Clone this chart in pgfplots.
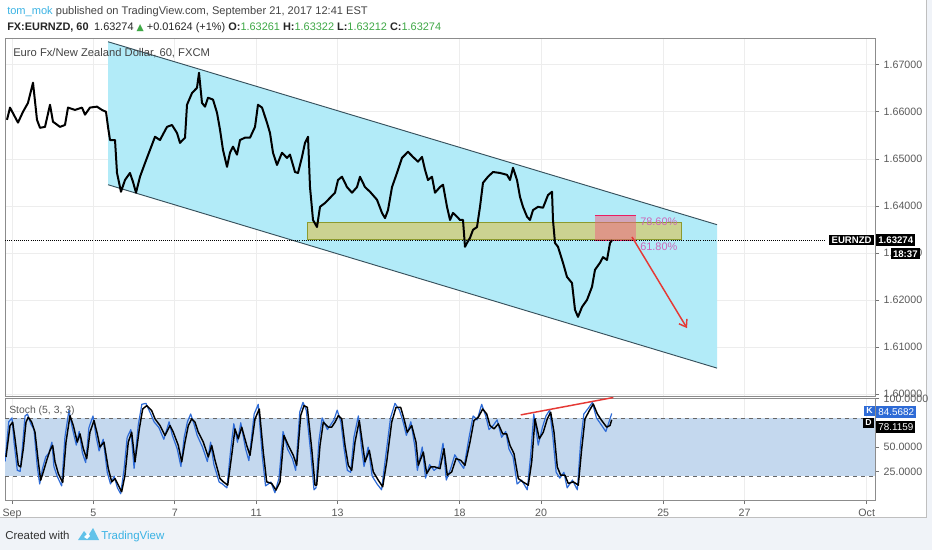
\documentclass[border=0pt]{standalone}
\usepackage{fontspec}
\setmainfont{Liberation Sans}
\newfontfamily\dejavu{DejaVu Sans}
\usepackage{pgfplots}
\usepackage{pgfplotstable}
\pgfplotsset{compat=1.18}
\usetikzlibrary{arrows.meta}

\definecolor{tvblue}{HTML}{3BB3E4}
\definecolor{txt}{HTML}{444444}
\definecolor{ticktxt}{HTML}{5A5A5A}
\definecolor{upgreen}{HTML}{3FA846}
\definecolor{chan}{HTML}{B2EBF8}
\definecolor{chanline}{HTML}{37505C}
\definecolor{zone}{HTML}{D2CC78}
\definecolor{zoneline}{HTML}{8C9A2E}
\definecolor{fibpink}{HTML}{F06080}
\definecolor{fibline}{HTML}{E91E63}
\definecolor{fibtxt}{HTML}{CC66B8}
\definecolor{stband}{HTML}{C4D8EE}
\definecolor{kblue}{HTML}{2E6BD6}
\definecolor{pagebg}{HTML}{F0F3F8}
\definecolor{gridc}{HTML}{EDEDED}
\definecolor{divred}{HTML}{E53935}

% hourly closes, x = trading days from Sep 1
\pgfplotstableread{
t p
-0.123 1.6583
-0.049 1.6609
0.074 1.6589
0.147 1.6577
0.270 1.6600
0.393 1.6619
0.516 1.6662
0.614 1.6583
0.688 1.6566
0.811 1.6568
0.934 1.6615
1.007 1.6579
1.179 1.6568
1.302 1.6572
1.376 1.6609
1.548 1.6604
1.720 1.6609
1.794 1.6594
1.916 1.6609
2.088 1.6611
2.211 1.6604
2.310 1.6600
2.359 1.6568
2.408 1.6540
2.531 1.6540
2.580 1.6470
2.678 1.6430
2.776 1.6455
2.899 1.6470
2.973 1.6451
3.047 1.6428
3.145 1.6462
3.268 1.6491
3.391 1.6519
3.514 1.6547
3.636 1.6540
3.808 1.6568
3.931 1.6572
4.054 1.6555
4.128 1.6534
4.251 1.6545
4.300 1.6615
4.423 1.6640
4.545 1.6651
4.595 1.6683
4.668 1.6619
4.742 1.6611
4.816 1.6630
4.939 1.6626
5.037 1.6598
5.111 1.6562
5.184 1.6519
5.283 1.6483
5.356 1.6513
5.430 1.6526
5.528 1.6509
5.602 1.6540
5.725 1.6545
5.848 1.6545
5.971 1.6568
6.044 1.6615
6.143 1.6609
6.265 1.6577
6.339 1.6555
6.413 1.6513
6.511 1.6487
6.634 1.6513
6.757 1.6502
6.830 1.6509
6.953 1.6472
7.027 1.6470
7.125 1.6504
7.199 1.6534
7.273 1.6547
7.322 1.6440
7.396 1.6370
7.494 1.6355
7.568 1.6398
7.690 1.6406
7.813 1.6417
7.936 1.6428
8.010 1.6455
8.108 1.6462
8.231 1.6440
8.354 1.6428
8.477 1.6440
8.550 1.6462
8.673 1.6440
8.796 1.6430
8.968 1.6413
9.091 1.6385
9.165 1.6374
9.238 1.6391
9.337 1.6440
9.459 1.6470
9.582 1.6502
9.730 1.6515
9.853 1.6504
9.975 1.6494
10.074 1.6504
10.147 1.6477
10.221 1.6455
10.319 1.6462
10.393 1.6428
10.516 1.6440
10.590 1.6445
10.688 1.6398
10.762 1.6370
10.835 1.6385
10.934 1.6377
11.007 1.6370
11.081 1.6370
11.130 1.6313
11.179 1.6321
11.253 1.6332
11.327 1.6349
11.425 1.6355
11.499 1.6398
11.572 1.6449
11.695 1.6462
11.818 1.6472
11.990 1.6470
12.162 1.6466
12.236 1.6455
12.310 1.6481
12.408 1.6455
12.482 1.6419
12.555 1.6398
12.654 1.6377
12.727 1.6370
12.801 1.6391
12.924 1.6398
13.047 1.6396
13.170 1.6423
13.268 1.6430
13.292 1.6370
13.342 1.6321
13.415 1.6313
13.538 1.6279
13.636 1.6249
13.759 1.6236
13.833 1.6179
13.907 1.6164
14.005 1.6185
14.128 1.6200
14.251 1.6228
14.324 1.6264
14.447 1.6279
14.521 1.6291
14.619 1.6285
14.693 1.6321
14.742 1.6327
}\price

% stochastic %D (black)
\pgfplotstableread{
t v
-0.147 39.8
-0.049 72
0.017 75.6
0.074 58.5
0.155 31.2
0.214 29.5
0.278 48.3
0.344 75.6
0.400 80.7
0.484 75.6
0.565 65.3
0.646 34.7
0.705 15.9
0.769 24.4
0.853 36.4
0.934 46.6
1.000 51.7
1.057 34.7
1.138 22.7
1.246 13.5
1.327 55.1
1.425 82.4
1.506 72.2
1.604 55.1
1.671 63.6
1.752 48.3
1.835 38.1
1.916 65.3
2.015 77.3
2.096 63.6
2.162 50
2.260 55.1
2.366 27.8
2.450 14.2
2.531 17.6
2.612 10.8
2.695 4
2.776 21
2.857 55.1
2.941 65.3
3.022 34.7
3.128 68.7
3.211 89.2
3.310 92.6
3.432 87.5
3.514 79
3.636 72.2
3.759 61.9
3.882 72.2
3.963 65.3
4.086 51.7
4.170 34.7
4.251 55.1
4.332 72.2
4.415 79
4.496 75.6
4.577 65.3
4.700 55.1
4.823 39.8
4.907 51.7
4.988 36.4
5.111 17.6
5.192 14.2
5.300 10.8
5.398 41.5
5.479 68.7
5.560 58.5
5.644 70.5
5.767 51.7
5.848 41.5
5.971 79
6.076 89.2
6.174 44.9
6.258 14.2
6.381 12.5
6.486 5.7
6.585 14.2
6.683 61.9
6.789 51.7
6.912 41.5
6.995 31.2
7.093 82.4
7.174 92.6
7.256 90.9
7.364 48.3
7.445 10.8
7.487 10.8
7.568 51.7
7.649 75.6
7.772 70.5
7.855 70.5
7.936 75.6
8.017 82.4
8.101 79
8.182 51.7
8.263 31.2
8.346 26.1
8.428 55.1
8.533 77.3
8.617 51.7
8.673 34.7
8.779 46.6
8.877 24.4
9.000 15.9
9.108 9.1
9.206 34.7
9.329 75.6
9.435 90.9
9.550 90.9
9.631 79
9.712 65.3
9.821 72.2
9.926 55.1
9.983 31.2
10.106 44.9
10.189 22.7
10.287 29.5
10.393 29.5
10.516 27.8
10.614 48.3
10.695 21
10.803 24.4
10.909 38.1
11.024 36.4
11.130 31.2
11.253 55.1
11.351 77.3
11.457 80.7
11.565 89.2
11.663 84.1
11.744 72.2
11.843 68.7
11.948 73.9
12.056 63.6
12.155 63.6
12.236 51.7
12.334 43.2
12.440 17.6
12.548 14.2
12.685 10.8
12.769 34.7
12.850 79
12.956 58.5
13.054 65.3
13.152 79
13.236 85.8
13.317 65.3
13.398 29.5
13.482 21
13.587 21
13.668 12.5
13.791 14.2
13.914 10.8
13.998 48.3
14.079 79
14.185 87.5
14.282 94.3
14.382 84.1
14.489 77.3
14.612 70.5
14.693 72.2
14.735 78.1
}\stochd

% stochastic %K (blue)
\pgfplotstableread{
t v
-0.17 35
-0.08 76
0.00 80
0.05 55
0.13 26
0.20 25
0.26 52
0.32 82
0.38 84
0.46 74
0.54 68
0.62 30
0.68 12
0.75 28
0.83 40
0.91 44
0.98 55
1.03 30
1.11 20
1.22 10
1.30 60
1.40 88
1.48 70
1.58 52
1.65 66
1.73 44
1.81 34
1.89 70
1.99 82
2.07 60
2.14 46
2.24 58
2.34 24
2.42 12
2.51 20
2.59 8
2.67 2
2.75 26
2.83 60
2.92 68
3.00 28
3.10 72
3.19 94
3.29 95
3.41 84
3.49 76
3.61 70
3.73 58
3.86 76
3.94 62
4.06 48
4.15 30
4.23 60
4.31 76
4.39 84
4.47 74
4.55 62
4.68 50
4.80 35
4.88 55
4.96 32
5.09 14
5.17 12
5.28 8
5.37 46
5.45 74
5.54 55
5.62 75
5.74 48
5.82 36
5.95 84
6.05 94
6.15 40
6.23 10
6.36 14
6.46 3
6.56 18
6.66 66
6.77 48
6.89 38
6.97 26
7.07 86
7.15 96
7.23 88
7.34 44
7.42 6
7.47 8
7.54 56
7.62 80
7.75 68
7.83 73
7.91 78
7.99 88
8.08 76
8.16 48
8.24 26
8.32 24
8.40 60
8.51 82
8.59 48
8.65 30
8.75 50
8.85 20
8.97 12
9.08 6
9.18 40
9.30 80
9.41 95
9.52 88
9.61 76
9.69 62
9.80 76
9.90 50
9.96 26
10.08 50
10.16 18
10.26 32
10.37 26
10.49 30
10.59 54
10.67 16
10.78 28
10.88 42
11.00 34
11.10 28
11.23 60
11.33 82
11.43 78
11.54 94
11.64 82
11.72 68
11.82 72
11.92 78
12.03 60
12.13 66
12.21 48
12.31 40
12.41 12
12.52 16
12.66 6
12.74 40
12.82 84
12.93 52
13.03 70
13.12 82
13.21 88
13.29 60
13.37 24
13.46 18
13.56 24
13.64 8
13.77 16
13.89 6
13.97 54
14.05 84
14.16 90
14.26 96
14.36 80
14.46 74
14.59 66
14.67 76
14.735 84.6
}\stochk

\pgfplotsset{
  tvpane/.style={
    scale only axis, anchor=south west,
    width=652.5pt,
    xmin=-0.172, xmax=21.204,
    xtick={0,2,4,6,8,11,13,16,18,21},
    axis line style={draw=black!45, line width=0.5pt},
    grid=major, major grid style={draw=gridc, line width=0.5pt},
    ytick pos=right, yticklabel pos=right,
    tick align=outside, major tick length=3pt,
    tick style={draw=black!55, line width=0.5pt},
    ticklabel style={font=\fontsize{8}{9}\selectfont, text=ticktxt},
    /pgf/number format/assume math mode=true,
    clip=true,
  },
}

\begin{document}
\begin{tikzpicture}
\useasboundingbox (0,0) rectangle (699pt,412.5pt);
\fill[pagebg] (0,0) rectangle (699pt,412.5pt);
\fill[white] (0,24.75pt) rectangle (694.5pt,412.5pt);
\draw[black!25, line width=0.5pt] (0,24.75pt) -- (694.5pt,24.75pt) -- (694.5pt,412.5pt);

% price pane
\begin{axis}[tvpane,
  at={(3.75pt,115.5pt)}, height=268.5pt,
  ymin=1.59957, ymax=1.6757,
  ytick={1.60,1.61,1.62,1.63,1.64,1.65,1.66,1.67},
  xticklabels={}, xtick style={draw=none},
  yticklabel style={/pgf/number format/.cd, fixed, fixed zerofill, precision=5},
]
  % channel
  \addplot[draw=none, fill=chan] coordinates {(2.359,1.6749) (17.322,1.6360) (17.322,1.6055) (2.359,1.6445)} -- cycle;
  \addplot[chanline, line width=0.7pt] coordinates {(2.359,1.6749) (17.322,1.6360)};
  \addplot[chanline, line width=0.7pt] coordinates {(2.359,1.6445) (17.322,1.6055)};
  % support zone
  \addplot[draw=zoneline, fill=zone, fill opacity=0.8, line width=0.5pt] coordinates {(7.248,1.6328) (16.437,1.6328) (16.437,1.6364) (7.248,1.6364)} -- cycle;
  % fib box
  \addplot[draw=none, fill=fibpink, fill opacity=0.5] coordinates {(14.324,1.6326) (15.332,1.6326) (15.332,1.6379) (14.324,1.6379)} -- cycle;
  \addplot[fibline, line width=0.7pt] coordinates {(14.324,1.6379) (15.332,1.6379)};
  \addplot[fibline, line width=0.7pt] coordinates {(14.324,1.6326) (15.332,1.6326)};
  % last price line
  \addplot[black, densely dotted, line width=0.6pt] coordinates {(-0.172,1.63274) (20.0,1.63274)};
  % price
  \addplot[black, line width=1.5pt, line join=round] table[x=t, y=p] {\price};
  % projected move
  \addplot[divred, line width=1.1pt, -{Straight Barb[length=5pt, width=7pt]}] coordinates {(15.233,1.6334) (16.585,1.6140)};
  \node[anchor=west, text=fibtxt, font=\fontsize{8.2}{9}\selectfont, inner sep=0] at (axis cs:15.43,1.6366) {78.60\%};
  \node[anchor=west, text=fibtxt, font=\fontsize{8.2}{9}\selectfont, inner sep=0] at (axis cs:15.43,1.6313) {61.80\%};
\end{axis}

% stochastic pane
\begin{axis}[tvpane,
  at={(3.75pt,37.5pt)}, height=76.5pt,
  ymin=-4.5, ymax=100.5,
  ytick={25,50,100},
  xticklabels={Sep,5,7,11,13,18,20,25,27,Oct},
  xtick pos=bottom,
  yticklabel style={/pgf/number format/.cd, fixed, fixed zerofill, precision=4},
]
  \addplot[draw=none, fill=stband] coordinates {(-0.172,20) (21.204,20) (21.204,80) (-0.172,80)} -- cycle;
  \addplot[black!60, dashed, line width=0.6pt] coordinates {(-0.172,80) (21.204,80)};
  \addplot[black!60, dashed, line width=0.6pt] coordinates {(-0.172,20) (21.204,20)};
  \addplot[kblue, line width=0.9pt, line join=round] table[x=t, y=v] {\stochk};
  \addplot[black, line width=1.1pt, line join=round] table[x=t, y=v] {\stochd};
  \addplot[divred, line width=1.1pt] coordinates {(12.499,83.1) (14.774,101)};
\end{axis}

\begin{scope}[shift={(0,412.5pt)}, x=0.75pt, y=-0.75pt]
  % header
  \node[anchor=base west, inner sep=0, text=txt, font=\fontsize{8.3}{10}\selectfont] at (7,15)
    {{\color{tvblue}tom\_mok} published on TradingView.com, September 21, 2017 12:41 EST};
  \node[anchor=base west, inner sep=0, text=black!85, font=\fontsize{8.2}{10}\selectfont] at (7,31)
    {\textbf{FX:EURNZD, 60}\enspace 1.63274 {\color{upgreen}\dejavu\fontsize{7}{8}\selectfont ▲} +0.01624 (+1\%) \textbf{O:}{\color{upgreen}1.63261} \textbf{H:}{\color{upgreen}1.63322} \textbf{L:}{\color{upgreen}1.63212} \textbf{C:}{\color{upgreen}1.63274}};
  \node[anchor=base west, inner sep=0, text=txt, font=\fontsize{8.4}{10}\selectfont] at (13,57)
    {Euro Fx/New Zealand Dollar, 60, FXCM};
  \node[anchor=base west, inner sep=0, text=ticktxt, font=\fontsize{7.8}{9}\selectfont] at (9,414)
    {Stoch (5, 3, 3)};
  % price labels
  \node[anchor=east, fill=black, text=white, inner sep=1.6pt, font=\bfseries\fontsize{7.2}{8}\selectfont] at (874,240) {EURNZD};
  \node[anchor=west, fill=black, text=white, inner sep=1.6pt, font=\bfseries\fontsize{7.2}{8}\selectfont] at (876,240) {1.63274};
  \node[anchor=north east, fill=black, text=white, inner sep=1.6pt, font=\bfseries\fontsize{7.2}{8}\selectfont] at (920,248) {18:37};
  % stochastic labels
  \node[anchor=east, fill=kblue, text=white, inner sep=1.5pt, font=\bfseries\fontsize{6.5}{7}\selectfont] at (875,411) {K};
  \node[anchor=west, fill=kblue, text=white, inner sep=1.6pt, font=\fontsize{7.4}{8}\selectfont] at (876,412) {84.5682};
  \node[anchor=east, fill=black, text=white, inner sep=1.5pt, font=\bfseries\fontsize{6.5}{7}\selectfont] at (874,423) {D};
  \node[anchor=west, fill=black, text=white, inner sep=1.6pt, font=\fontsize{7.4}{8}\selectfont] at (876,427) {78.1159};
  % footer
  \node[anchor=base west, inner sep=0, text=black!80, font=\fontsize{8.6}{10}\selectfont] at (5,539) {Created with};
  \fill[tvblue!80] (78,540) -- (84,531) -- (88,536) -- (93,528) -- (99,540) -- cycle;
  \fill[white] (84,537) -- (88,533) -- (90,536) -- (87,539) -- cycle;
  \node[anchor=base west, inner sep=0, text=tvblue, font=\fontsize{8.6}{10}\selectfont] at (101,539) {TradingView};
\end{scope}
\end{tikzpicture}
\end{document}
